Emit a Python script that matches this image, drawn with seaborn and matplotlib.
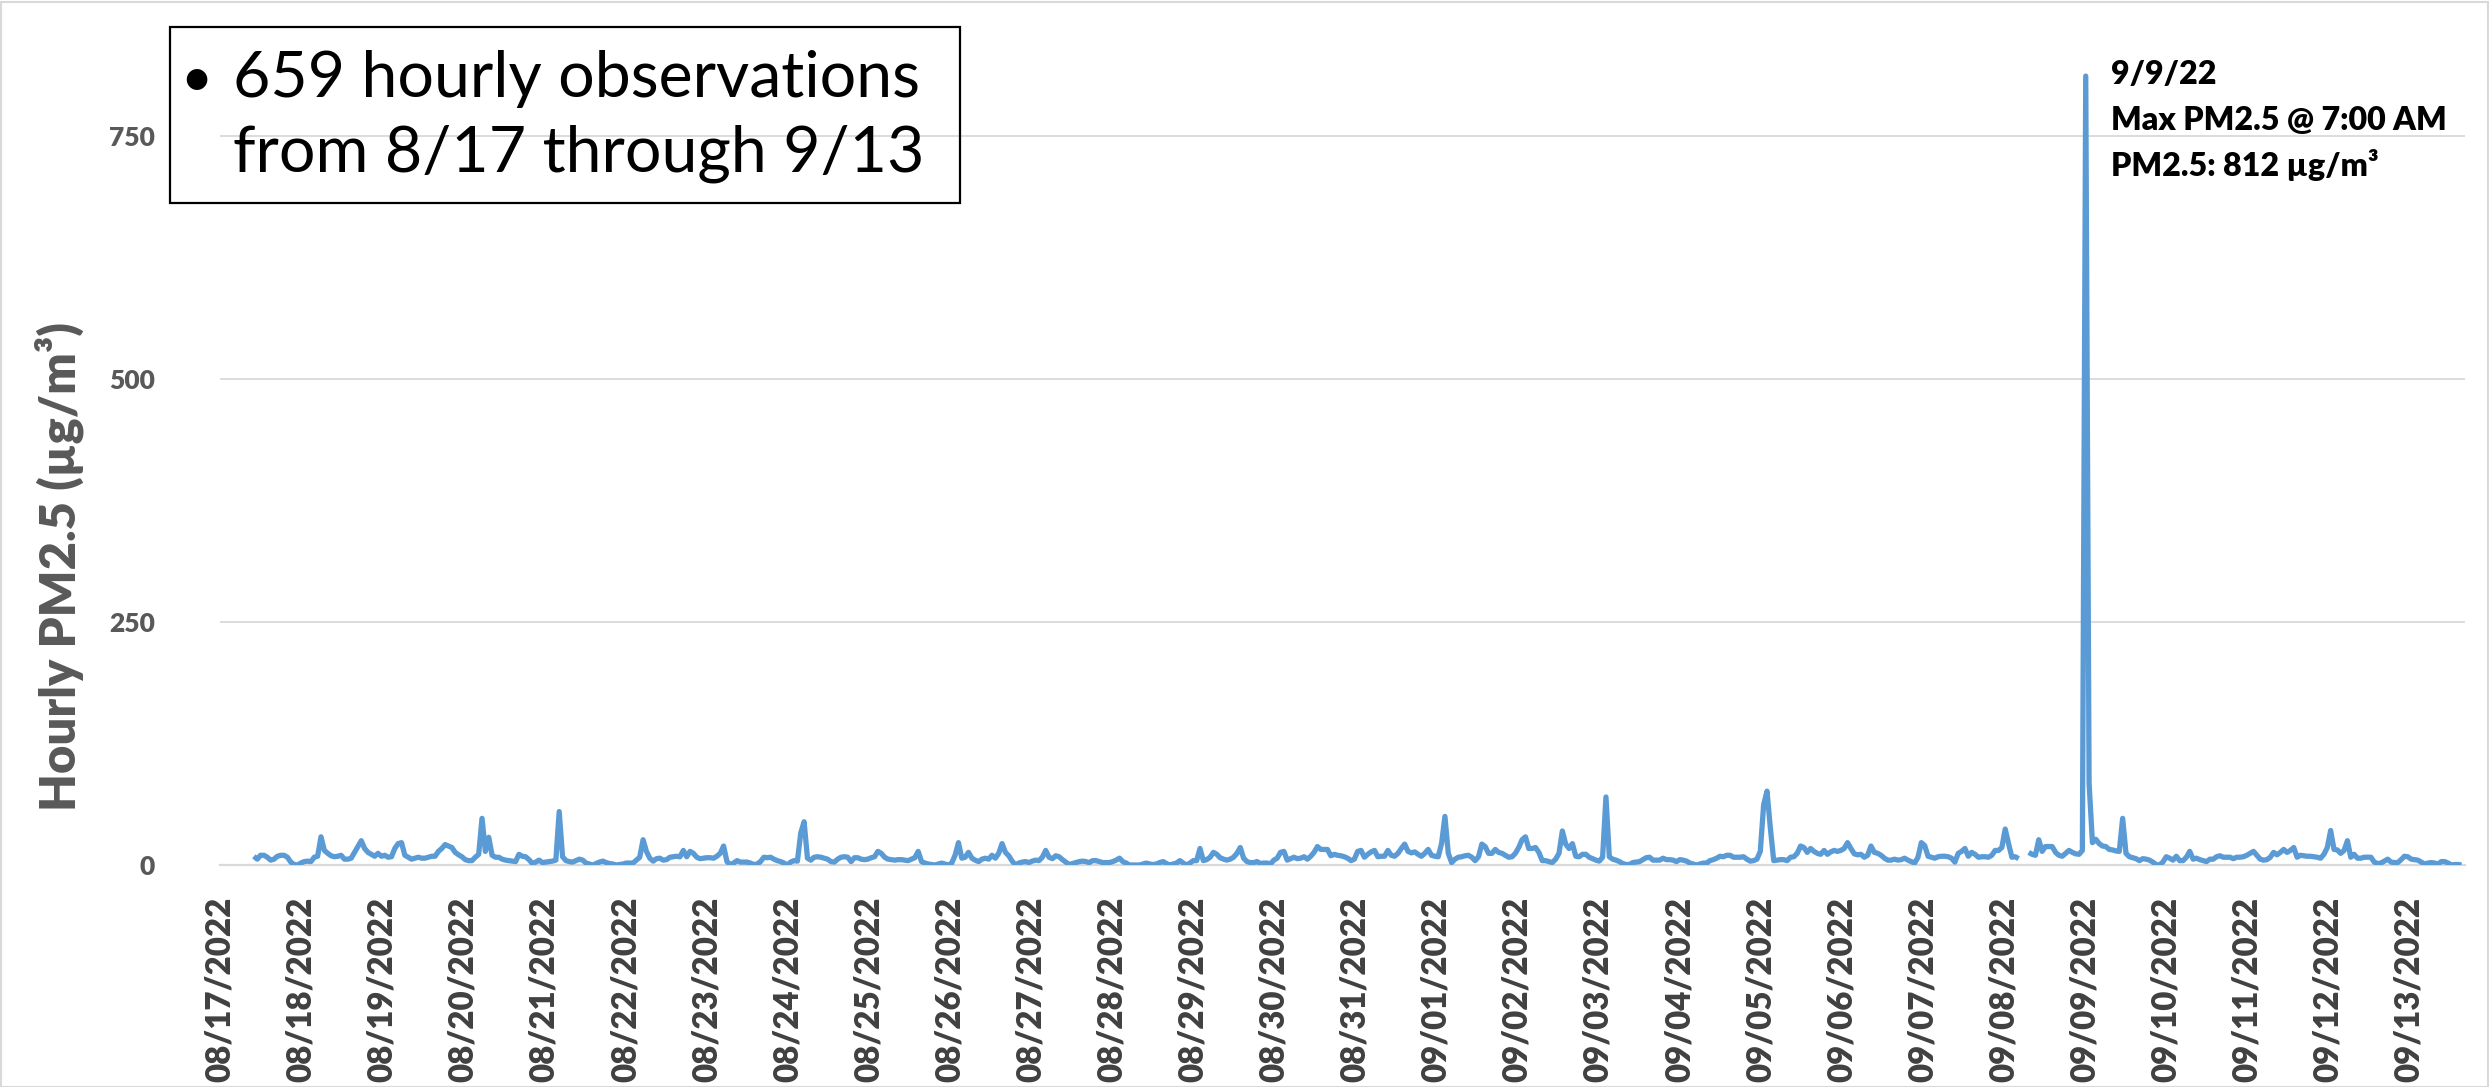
import numpy as np
import pandas as pd
import matplotlib
matplotlib.use("Agg")
import matplotlib.pyplot as plt
import seaborn as sns
from matplotlib.patches import Rectangle
from matplotlib import font_manager as fm

# ---------------- data (hourly PM2.5, µg/m³) ----------------
pm_a = [9, 6, 10, 10, 8, 5, 6, 9, 10, 10, 8, 3, 0.5, 0, 2, 3.5, 4, 3.5, 8, 9, 29, 15, 12, 9.5,
        8.5, 9, 10, 6, 6, 7, 13, 19, 25, 17, 13, 11, 9, 12, 9, 10, 8, 8.5, 17, 22, 23, 10, 8, 6,
        7, 8, 7, 7, 8, 9, 9, 14, 17, 21, 19.5]
pm_b = [18, 13, 10.5, 8.5, 5.5, 4.5, 4.5, 8, 11, 48, 14, 28.5, 10, 8, 8, 6, 5, 4.5, 4, 3.5,
        11, 9, 8.5, 5.5, 1.5, 3, 5, 2.5, 3, 3.5, 4, 5, 55, 8.5, 4.5, 3.5, 3, 4.5, 6, 5,
        2, 1, 0, 1.5, 3, 4, 2.5, 1.5, 1, 0, 0.5, 1, 2, 2, 2, 5, 8, 26, 14, 7]
pm_c = [4, 6.5, 7, 5, 5.5, 8, 8.5, 9, 8.5, 15, 8.5, 14, 12, 8, 6.5, 7, 7.5, 7.5, 7, 9,
        12, 19.5, 3.5, 0.5, 2, 4.5, 3, 3, 3, 2, 0.5, 1, 3.5, 8, 7.5, 8, 6, 4.5, 3.5, 2,
        0, 3, 4.5, 4, 33, 44.5, 7, 5, 8, 8.5, 8, 7, 6, 3.5, 3, 6, 8, 8.5, 8, 3.5]
pm_d = [7.5, 7.5, 6, 5.5, 6, 7.5, 8.5, 14, 12, 8, 6, 5.5, 5, 5.5, 5.5, 5, 4.5, 6, 7.5, 14,
        3.5, 2, 1, 0.5, 0, 1, 2, 1, 0, 2, 10, 23, 7, 8, 13, 7, 5, 3.5, 6, 7,
        6, 10, 7, 12, 22, 13, 9.5, 4, 0, 2, 3, 3.5, 2.5, 4, 5, 4.5, 8, 15, 8, 6.5]
pm_e = [9.5, 8.5, 5.5, 3, 0.5, 1.5, 2.5, 3.5, 4, 3.5, 2.5, 4.5, 4.5, 3.5, 2.5, 2.5, 2.5, 3.5, 5, 7,
        3.5, 2, 0, 0, 0, 0, 1, 2, 1, 0.5, 1, 2.5, 3.5, 1.5, 0, 1, 2, 4.5, 2, 0,
        2, 4.5, 4.5, 17, 4.5, 5.5, 8, 13, 11, 7.5, 6, 5, 6, 8, 12, 18, 7, 3.5, 2.5, 2.5]
pm_f = [3.5, 1.5, 2, 2, 1, 5, 7, 13, 14, 5, 6.5, 8, 6.5, 7, 8.5, 6, 9, 13, 19, 16,
        16, 16, 9.5, 11, 10, 9.5, 8.5, 7, 4.5, 6, 14, 15, 8, 11, 13.5, 15, 8.5, 9, 9, 15,
        10, 9, 12, 17, 21.5, 14, 12.5, 13.5, 11, 9, 12, 16, 10, 9, 8.5, 22, 50, 12, 2.5, 6]
pm_g = [8, 8.5, 9.5, 10, 8, 4.5, 8.5, 21.5, 19, 12, 12, 16, 13, 12, 10, 8, 8.5, 12, 18, 26,
        29, 17, 17, 18, 13, 4.5, 4.5, 3.5, 2.5, 6, 12, 35, 21.5, 17, 22, 9, 8.5, 11, 11, 8,
        6.5, 5, 4, 8, 70, 8.5, 6, 5, 3.5, 1.5, 0.5, 0.5, 2.5, 3, 3.5, 5.5, 7.5, 8, 5, 5]
pm_h = [5, 7, 5.5, 5.5, 5, 3.5, 5.5, 5, 4, 2, 1, 0, 1, 2, 2, 4.5, 5.5, 7, 9, 8.5,
        10, 10, 8, 8, 8, 8.5, 6, 4, 4.5, 6, 14, 62, 76, 38, 4.5, 5, 5.5, 5.5, 4.5, 8,
        8.5, 12, 19.5, 18, 13, 17, 14, 12, 11, 15, 11, 13.5, 15, 14, 15, 17, 23, 17, 11.5, 10.5]
pm_i = [11, 8, 10, 19.5, 13, 12, 10, 7, 5, 5, 6, 5, 5.5, 7, 5, 3.5, 2, 8, 23, 20,
        9, 8, 7, 8.5, 9, 9, 8.5, 7, 3, 12, 14, 17, 9, 13, 11, 8, 8.5, 8.5, 8, 10,
        15, 15, 18, 37, 22, 8, 8.5, 6.5, np.nan, np.nan, 13, 11, 10, 26, 14, 19, 19, 19, 13, 10]
pm_j = [9, 12, 15, 13, 11.5, 11, 15, 812, 84, 23, 26.5, 22, 19.5, 19, 16, 15.5, 14.5, 14, 48, 12,
        8.5, 7.5, 6.5, 4.5, 6.5, 6, 5, 3, 0.5, 0, 3, 8.5, 7, 5, 9, 4.5, 4.5, 8, 14, 6,
        7, 5.5, 4.5, 3.5, 6, 6, 8.5, 9.5, 8, 8, 8, 6.5, 8, 8, 8.5, 10, 12, 14, 10, 6]
pm_k = [5, 5.5, 8, 13, 10.5, 13, 16, 13, 15, 18, 8, 10, 9.5, 9, 9, 8.5, 8, 7, 11, 18,
        35.5, 16, 15.5, 12, 15, 25, 8, 11, 7, 7, 8, 8, 8, 3, 1.5, 2, 4, 6, 3, 2.5,
        2.5, 5.5, 9, 8.5, 6, 5.5, 5, 3, 1, 2, 2.5, 2, 1, 3.5, 3.5, 2, 0, 0.5, 0.5, 0]

day_labels = ["08/17/2022", "08/18/2022", "08/19/2022", "08/20/2022", "08/21/2022",
              "08/22/2022", "08/23/2022", "08/24/2022", "08/25/2022", "08/26/2022",
              "08/27/2022", "08/28/2022", "08/29/2022", "08/30/2022", "08/31/2022",
              "09/01/2022", "09/02/2022", "09/03/2022", "09/04/2022", "09/05/2022",
              "09/06/2022", "09/07/2022", "09/08/2022", "09/09/2022", "09/10/2022",
              "09/11/2022", "09/12/2022", "09/13/2022"]
y_ticks = [0, 250, 500, 750]
y_label = "Hourly PM2.5 (µg/m³)"
box_lines = ["659 hourly observations", "from 8/17 through 9/13"]
peak_lines = ["9/9/22", "Max PM2.5 @ 7:00 AM", "PM2.5: 812 µg/m³"]

pm25 = np.concatenate([np.asarray(c, dtype=float) for c in
                       [pm_a, pm_b, pm_c, pm_d, pm_e, pm_f, pm_g, pm_h, pm_i, pm_j, pm_k]])
n = len(pm25)
df = pd.DataFrame({"hour": np.arange(n), "pm25": pm25})
df["segment"] = np.isnan(pm25).cumsum()
df = df.dropna()

# ---------------- fonts: pick real font files ----------------
ENTS = fm.fontManager.ttflist

def find_file(fam, weight):
    for e in ENTS:
        try:
            w = int(e.weight)
        except Exception:
            w = int(fm.weight_dict.get(str(e.weight).lower(), 400))
        if e.name == fam and e.style == "normal" and w == weight:
            return e.fname
    return None

bold_file = find_file("Lato", 800) or find_file("Roboto", 700) or find_file("Liberation Sans", 700)
reg_file = find_file("Lato", 400) or find_file("Liberation Sans", 400)

def FB(size):
    if bold_file:
        return fm.FontProperties(fname=bold_file, size=size)
    return fm.FontProperties(family="DejaVu Sans", weight="bold", size=size)

def FR(size):
    if reg_file:
        return fm.FontProperties(fname=reg_file, size=size)
    return fm.FontProperties(family="DejaVu Sans", size=size)

# ---------------- layout ----------------
W, H, DPI = 2489, 1087, 100
sns.set_theme(style="white")
plt.rcParams['font.family'] = ['Lato', 'DejaVu Sans']

LINE = "#5B9BD5"
GRID = "#D9D9D9"
TXT = "#595959"

y_top = 850
px_per_unit = 0.9716
left_px, right_px, base_px = 220.0, 2464.5, 865.0
ax_h = y_top * px_per_unit

fig = plt.figure(figsize=(W / DPI, H / DPI), dpi=DPI)
fig.patch.set_facecolor("white")
ax = fig.add_axes([left_px / W, (H - base_px) / H, (right_px - left_px) / W, ax_h / H])
ax.set_facecolor("white")

sns.lineplot(data=df, x="hour", y="pm25", units="segment", estimator=None,
             color=LINE, linewidth=3.8, ax=ax, legend=False)
for ln in ax.lines:
    ln.set_linewidth(3.8)
    ln.set_solid_joinstyle("round")
    ln.set_solid_capstyle("butt")

ax.set_xlim(-0.5, n - 0.5)
ax.set_ylim(0, y_top)
ax.set_yticks(y_ticks)
ax.set_yticklabels([str(v) for v in y_ticks])
ax.yaxis.grid(True, color=GRID, lw=1.3)
ax.xaxis.grid(False)
ax.set_axisbelow(True)
for s in ["left", "right", "top"]:
    ax.spines[s].set_visible(False)
ax.spines["bottom"].set_color(GRID)
ax.spines["bottom"].set_linewidth(1.6)
ax.spines["bottom"].set_zorder(0.5)
ax.set_xlabel("")
ax.set_ylabel("")

# x labels: one per day; minor tick marks every 12 hours
dx = (right_px - left_px) / n
lab_pos = [(187.3 + 82.31 * k - left_px) / dx - 0.5 for k in range(len(day_labels))]
ax.set_xticks(lab_pos)
ax.set_xticklabels(day_labels, rotation=90)
tick_pos = [(225.7 + 40.73 * k - left_px) / dx - 0.5 for k in range(56)]
ax.set_xticks(tick_pos, minor=True)
ax.tick_params(axis="x", which="major", length=0, pad=23)
ax.tick_params(axis="x", which="minor", length=11, width=1.6, color=GRID, direction="out")
ax.tick_params(axis="y", length=0, pad=47)
for t in ax.get_xticklabels():
    t.set_fontproperties(FB(22))
    t.set_color("#404040")
for t in ax.get_yticklabels():
    t.set_fontproperties(FB(18))
    t.set_color(TXT)

# y axis title
ylab = fig.text(59 / W, 1 - 567 / H, y_label, rotation=90, ha="center", va="center",
                color=TXT, fontproperties=FB(34))

# info box
box = Rectangle((170 / W, 1 - 203 / H), 790 / W, 176 / H, transform=fig.transFigure,
                fill=False, ec="black", lw=1.6, zorder=5)
fig.add_artist(box)
bullet = fig.text(196 / W, 1 - 80 / H, "•", ha="center", va="center", color="black",
                  fontproperties=FR(40))
t1 = fig.text(233 / W, 1 - 79 / H, box_lines[0], ha="left", va="center", color="black",
              fontproperties=FR(44))
t2 = fig.text(233 / W, 1 - 154 / H, box_lines[1], ha="left", va="center", color="black",
              fontproperties=FR(44))

# peak annotation
pk = []
for txt, yc in zip(peak_lines, [74, 120, 165]):
    pk.append(fig.text(2111 / W, 1 - yc / H, txt, ha="left", va="center",
                       color="black", fontproperties=FB(26)))

# chart border
fig.add_artist(Rectangle((0.5 / W, 0.5 / H), (W - 2) / W, (H - 2) / H, transform=fig.transFigure,
                         fill=False, ec=GRID, lw=1.5))

# --------- fit font sizes to measured extents ---------
fig.canvas.draw()
r = fig.canvas.get_renderer()

def fit(t, target, dim="w"):
    bb = t.get_window_extent(renderer=r)
    cur = bb.width if dim == "w" else bb.height
    t.set_fontsize(t.get_fontsize() * target / cur)

fit(t1, 687)
t2.set_fontsize(t1.get_fontsize())
fit(pk[1], 336)
for t in pk:
    t.set_fontsize(pk[1].get_fontsize())
fit(ylab, 490, "h")

xl = ax.get_xticklabels()[0]
bb = xl.get_window_extent(renderer=r)
xs = xl.get_fontsize() * 185 / bb.height
for t in ax.get_xticklabels():
    t.set_fontsize(xs)
yl = ax.get_yticklabels()[-1]
bb = yl.get_window_extent(renderer=r)
ys = yl.get_fontsize() * 46 / bb.width
for t in ax.get_yticklabels():
    t.set_fontsize(ys)

fig.savefig("out.png", dpi=DPI, facecolor="white")
